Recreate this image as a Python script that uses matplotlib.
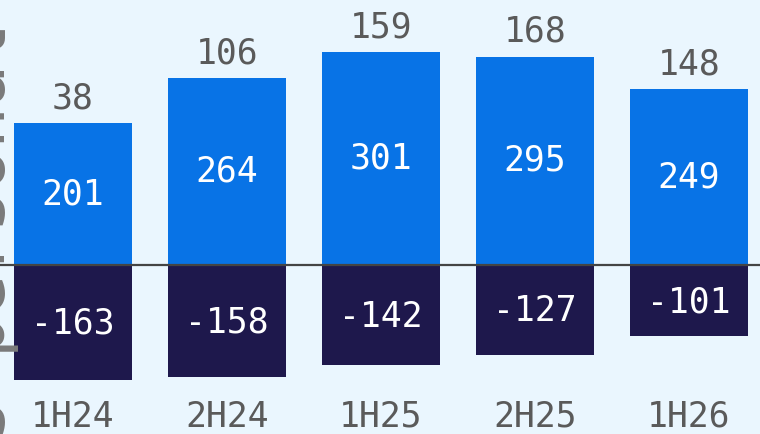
import numpy as np
import matplotlib.pyplot as plt

periodos = ['1H24', '2H24', '1H25', '2H25', '1H26']
positivos = [201, 264, 301, 295, 249]
negativos = [-163, -158, -142, -127, -101]
netos = [38, 106, 159, 168, 148]

azul = '#0873e6'
marino = '#1e184c'
fondo = '#eaf6fe'
gris = '#5a5a5a'

plt.rcParams['font.family'] = ['DejaVu Sans Mono', 'DejaVu Sans']

fig = plt.figure(figsize=(7.6, 4.34), dpi=100, facecolor=fondo)
ax = fig.add_axes([0, 0, 1, 1], facecolor=fondo)

x = np.arange(len(periodos))
ax.bar(x, positivos, width=0.77, color=azul)
ax.bar(x, negativos, width=0.77, color=marino)
ax.axhline(0, color='#444444', lw=1.6)

for i in range(len(x)):
    ax.text(x[i], positivos[i] / 2, str(positivos[i]), color='white',
            fontsize=25, ha='center', va='center')
    ax.text(x[i], negativos[i] / 2 - 2, str(negativos[i]), color='white',
            fontsize=25, ha='center', va='center')
    ax.text(x[i], positivos[i] + 11, str(netos[i]), color=gris,
            fontsize=25, ha='center', va='bottom')
    ax.text(x[i], -215, periodos[i], color=gris,
            fontsize=25, ha='center', va='center')

# limites para que las barras caigan donde en la imagen
ax.set_xlim(-0.474, 4.461)
ax.set_ylim(-239.2, 375.1)
ax.axis('off')

# etiqueta del eje cortada en el borde izquierdo
fig.text(5 / 760, 1 - 232 / 434, 's personal', rotation=90, rotation_mode='anchor',
         ha='center', va='baseline', fontsize=50, color='#7a7a7a')

fig.savefig('out.png', dpi=100, facecolor=fondo)
